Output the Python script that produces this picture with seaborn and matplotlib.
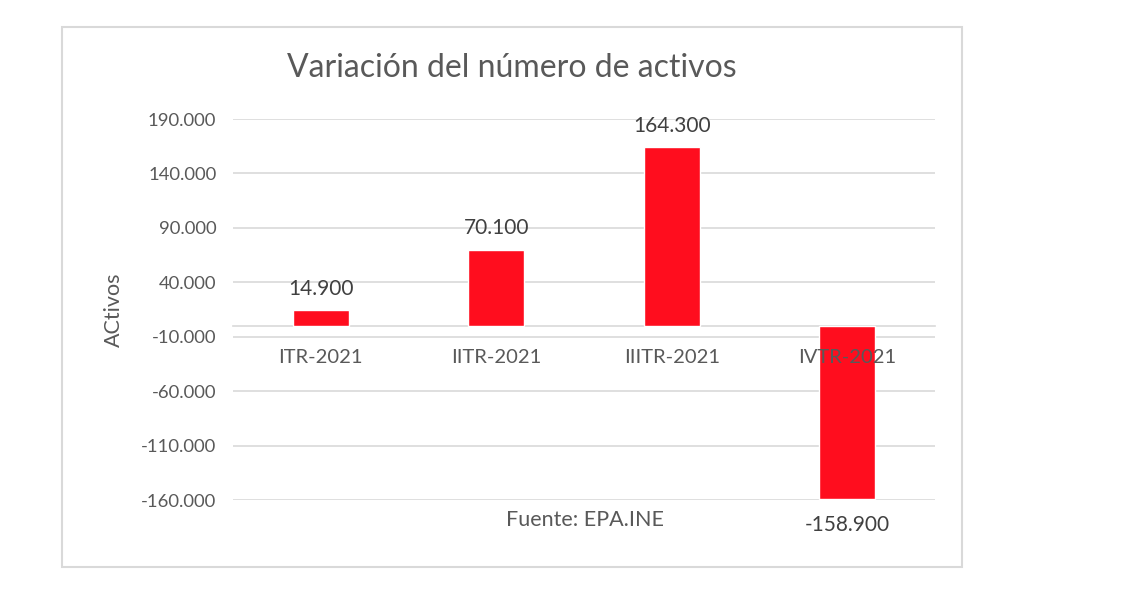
import matplotlib
matplotlib.use("Agg")
import matplotlib.pyplot as plt
from matplotlib.patches import Rectangle
import pandas as pd
import seaborn as sns

# data
quarters = ["ITR-2021", "IITR-2021", "IIITR-2021", "IVTR-2021"]
variation = [14900, 70100, 164300, -158900]
y_ticks = [-160000, -110000, -60000, -10000, 40000, 90000, 140000, 190000]

BAR_RED = "#FF0D1E"
TEXT_GREY = "#595959"
GRID_GREY = "#D9D9D9"


def es_fmt(v):
    return f"{v:,.0f}".replace(",", ".")


sns.set_style("white")
plt.rcParams["font.family"] = ["Lato", "DejaVu Sans"]

df = pd.DataFrame({"trimestre": quarters, "activos": variation})

fig = plt.figure(figsize=(11.36, 6.06), dpi=100)
ax = fig.add_axes([0.2051, 0.1749, 0.618, 0.6287])

sns.barplot(data=df, x="trimestre", y="activos", color=BAR_RED, width=0.32,
            saturation=1, ax=ax, zorder=3)

ax.set_ylim(-160000, 190000)
ax.set_yticks(y_ticks)
ax.set_yticklabels([es_fmt(t) for t in y_ticks], color=TEXT_GREY, fontsize=13.3)
ax.yaxis.grid(True, color=GRID_GREY, linewidth=1.2, zorder=0)
ax.set_axisbelow(True)

for side in ["top", "right", "left"]:
    ax.spines[side].set_visible(False)
ax.spines["bottom"].set_position(("data", 0))
ax.spines["bottom"].set_color(GRID_GREY)
ax.spines["bottom"].set_linewidth(1.2)
ax.spines["bottom"].set_zorder(2)
ax.tick_params(axis="both", length=0, pad=12)
ax.tick_params(axis="x", pad=17, labelsize=14.5, labelcolor=TEXT_GREY)
# category labels sit over the negative bar, as in the original
ax.xaxis.set_zorder(5)

ax.set_xlabel("")
ax.set_ylabel("ACtivos", color=TEXT_GREY, fontsize=15.5, labelpad=12)

bars = ax.containers[0]
ax.bar_label(bars, labels=[es_fmt(v) if v >= 0 else "" for v in variation],
             padding=8, color="#404040", fontsize=15)
ax.bar_label(bars, labels=[es_fmt(v) if v < 0 else "" for v in variation],
             padding=12, color="#404040", fontsize=15)

fig.text(512 / 1136, 1 - 68 / 606, "Variación del número de activos",
         ha="center", va="center", fontsize=23, color=TEXT_GREY)
fig.text(585 / 1136, 1 - 520 / 606, "Fuente: EPA.INE",
         ha="center", va="center", fontsize=15.5, color=TEXT_GREY)

# outer chart frame
fig.patches.append(Rectangle((62 / 1136, 1 - 567 / 606), 900 / 1136, 540 / 606,
                             transform=fig.transFigure, fill=False,
                             edgecolor=GRID_GREY, linewidth=1.5))

fig.savefig("out.png", dpi=100, facecolor="white")
